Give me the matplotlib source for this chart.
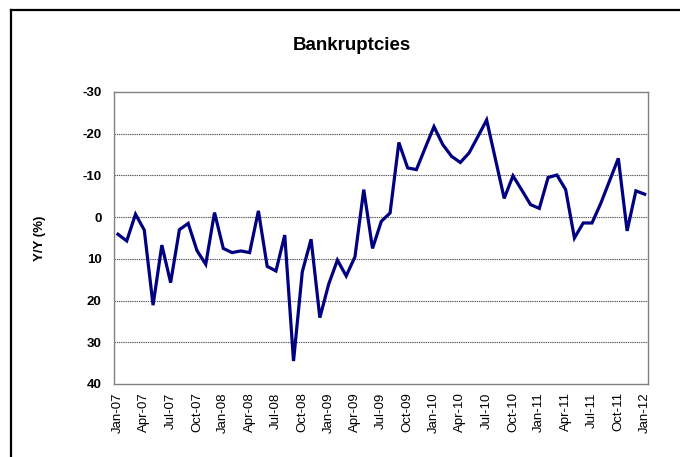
import matplotlib
matplotlib.use("Agg")
import matplotlib.pyplot as plt
from matplotlib.lines import Line2D

plt.rcParams["font.family"] = ["Liberation Sans", "DejaVu Sans"]

# Monthly year-over-year change in bankruptcies, Jan-07 .. Jan-12 (%)
months = [f"{m}-{y:02d}" for y in range(7, 12) for m in
          ["Jan", "Feb", "Mar", "Apr", "May", "Jun",
           "Jul", "Aug", "Sep", "Oct", "Nov", "Dec"]] + ["Jan-12"]
yoy_2007 = [4.1, 5.7, -0.7, 3.1, 21.1, 6.7, 15.7, 3.0, 1.5, 8.0, 11.3, -1.1]
yoy_2008 = [7.5, 8.5, 8.1, 8.5, -1.5, 11.8, 12.9, 4.3, 34.5, 13.1, 5.3, 24.1]
yoy_2009 = [16.1, 10.3, 14.1, 9.5, -6.6, 7.5, 1.0, -1.0, -17.9, -11.8, -11.4, -16.6]
yoy_2010 = [-21.7, -17.4, -14.6, -13.1, -15.4, -19.3, -23.3, -13.9, -4.5, -9.9, -6.5, -3.0]
yoy_2011 = [-2.1, -9.5, -10.1, -6.6, 5.0, 1.4, 1.4, -3.3, -8.7, -14.1, 3.3, -6.3]
yoy_2012 = [-5.5]
yoy = yoy_2007 + yoy_2008 + yoy_2009 + yoy_2010 + yoy_2011 + yoy_2012

y_ticks = [-30, -20, -10, 0, 10, 20, 30, 40]

fig = plt.figure(figsize=(6.8, 4.57), dpi=100)
fig.patch.set_facecolor("white")

# partial black frame around the chart area (top and left edges)
fig.add_artist(Line2D([10.5 / 680, 10.5 / 680], [0, 1 - 10 / 457],
                      color="black", lw=1.6, transform=fig.transFigure))
fig.add_artist(Line2D([10.5 / 680, 1], [1 - 10 / 457, 1 - 10 / 457],
                      color="black", lw=1.6, transform=fig.transFigure))

ax = fig.add_axes([114 / 680, 73 / 457, 534 / 680, 292 / 457])
x = list(range(len(yoy)))
ax.plot(x, yoy, color="#000080", lw=2.3, solid_joinstyle="miter")

ax.set_ylim(40, -30)
ax.set_yticks(y_ticks)
ax.set_yticklabels([str(v) for v in y_ticks], fontsize=9.5, fontweight="bold")
ax.set_xlim(-0.45, 60.38)
ax.set_xticks(x[::3])
ax.set_xticklabels(months[::3], rotation=90, fontsize=9.5)
ax.tick_params(axis="both", length=0)
ax.tick_params(axis="y", pad=9)
ax.tick_params(axis="x", pad=6)

for v in y_ticks[1:-1]:
    ax.axhline(v, color="#555555", lw=0.8, ls=(0, (1.2, 0.8)), zorder=0)

for s in ax.spines.values():
    s.set_color("#808080")
    s.set_linewidth(1.0)

ax.set_ylabel("Y/Y (%)", fontsize=9.5, fontweight="bold", labelpad=26)
fig.text(352 / 680, 1 - 45 / 457, "Bankruptcies", ha="center", va="center",
         fontsize=13.5, fontweight="bold")

fig.savefig("out.png", dpi=100, facecolor="white")
